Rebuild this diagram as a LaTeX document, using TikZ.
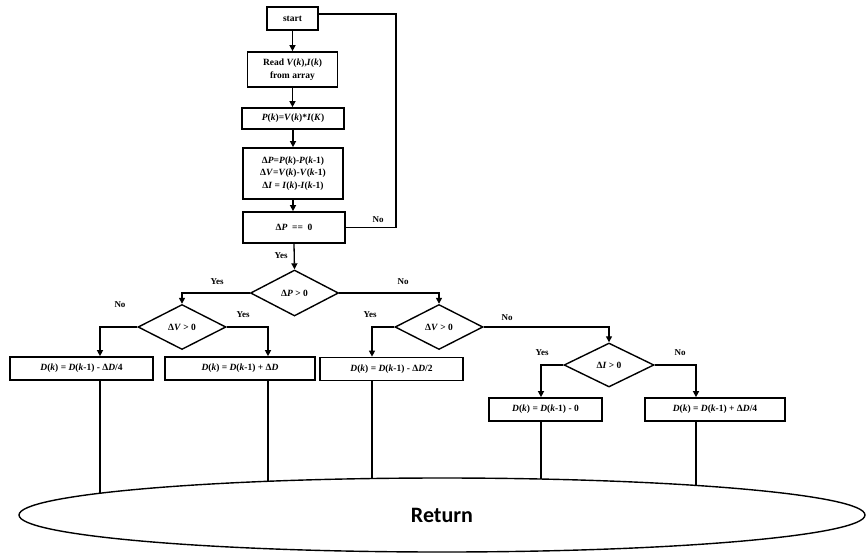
\documentclass[tikz,border=0pt]{standalone}
\usepackage{fontspec}
\setmainfont{Liberation Serif}
\newfontfamily\retfont{Carlito}
\usetikzlibrary{shapes.geometric,arrows.meta}
\newcommand{\mi}[1]{\textit{#1}}
\pgfdeclarelayer{bg}
\pgfsetlayers{bg,main}
\begin{document}
\begin{tikzpicture}[x=1pt,y=-1pt,
  box/.style={draw,rectangle,line width=1.7pt,inner sep=0pt,align=center,font=\fontsize{9.5}{12.5}\selectfont\bfseries},
  dia/.style={draw,diamond,line width=1.4pt,inner sep=0pt,font=\fontsize{9.5}{11}\selectfont\bfseries},
  ar/.style={line width=1.3pt,-{Triangle[length=6pt,width=6pt]}},
  ln/.style={line width=1.3pt},
  lab/.style={font=\fontsize{9}{10}\selectfont\bfseries,inner sep=0pt}]
\useasboundingbox (0,0) rectangle (867,555);

% main column
\node[box,minimum width=51pt,minimum height=23pt] (start) at (292.5,18.5) {start};
\node[box,minimum width=90pt,minimum height=35pt] (read) at (292.5,69.5) {Read \mi{V}(\mi{k}),\mi{I}(\mi{k})\\from array};
\node[box,minimum width=102pt,minimum height=21pt] (pk) at (293,118.5) {\mi{P}(\mi{k})=\mi{V}(\mi{k})*\mi{I}(\mi{K})};
\node[box,minimum width=100pt,minimum height=51pt] (calc) at (293,173.5) {Δ\mi{P}=\mi{P}(\mi{k})-\mi{P}(\mi{k}-1)\\Δ\mi{V}=\mi{V}(\mi{k})-\mi{V}(\mi{k}-1)\\Δ\mi{I} = \mi{I}(\mi{k})-\mi{I}(\mi{k}-1)};
\node[box,minimum width=102pt,minimum height=31pt] (zero) at (294,227.5) {Δ\mi{P}\enspace==\enspace0};

% decisions
\node[dia,minimum width=88pt,minimum height=46pt] (d1) at (294.5,293) {Δ\mi{P} > 0};
\node[dia,minimum width=88pt,minimum height=45pt] (d2) at (182,327) {Δ\mi{V} > 0};
\node[dia,minimum width=88pt,minimum height=45pt] (d3) at (439,327) {Δ\mi{V} > 0};
\node[dia,minimum width=90pt,minimum height=44pt] (d4) at (609,365) {Δ\mi{I} > 0};

% result boxes
\node[box,minimum width=143pt,minimum height=23pt] (b1) at (81.5,368.5) {\mi{D}(\mi{k}) = \mi{D}(\mi{k}-1) - Δ\mi{D}/4};
\node[box,minimum width=150pt,minimum height=23pt] (b2) at (240,368.5) {\mi{D}(\mi{k}) = \mi{D}(\mi{k}-1) + Δ\mi{D}};
\node[box,minimum width=143pt,minimum height=23pt] (b3) at (391.5,369) {\mi{D}(\mi{k}) = \mi{D}(\mi{k}-1) - Δ\mi{D}/2};
\node[box,minimum width=113pt,minimum height=23pt] (b4) at (545.5,409.5) {\mi{D}(\mi{k}) = \mi{D}(\mi{k}-1) - 0};
\node[box,minimum width=140pt,minimum height=23pt] (b5) at (715,409.5) {\mi{D}(\mi{k}) = \mi{D}(\mi{k}-1) + Δ\mi{D}/4};

% return
\node[draw,ellipse,fill=white,line width=1.4pt,minimum width=846pt,minimum height=74pt,inner sep=0pt,
      font=\retfont\fontsize{22}{26}\selectfont\bfseries] (ret) at (442,515) {Return};

% connectors
\draw[ar] (start.south) -- (start.south |- read.north);
\draw[ar] (read.south) -- (read.south |- pk.north);
\draw[ar] (pk.south) -- (pk.south |- calc.north);
\draw[ar] (calc.south) -- (calc.south |- zero.north);
\draw[ar] (zero.south) -- (d1.north);
\coordinate (lp) at (396,14);
\draw[ln] (zero.east) -| (lp) -- (lp -| start.east);

\draw[ar] (d1.west) -| (d2.north);
\draw[ar] (d1.east) -| (d3.north);
\draw[ar] (d3.east) -| (d4.north);
\draw[ar] (d2.west) -| ([xshift=18.5pt]b1.north);
\draw[ar] (d2.east) -| ([xshift=28pt]b2.north);
\draw[ar] (d3.west) -| ([xshift=-19.5pt]b3.north);
\draw[ar] (d4.west) -| ([xshift=-4.5pt]b4.north);
\draw[ar] (d4.east) -| ([xshift=-19pt]b5.north);

\begin{pgfonlayer}{bg}
\draw[ln] ([xshift=18.5pt]b1.south) -- ([xshift=18.5pt]b1.south |- ret.center);
\draw[ln] ([xshift=28pt]b2.south) -- ([xshift=28pt]b2.south |- ret.center);
\draw[ln] ([xshift=-19.5pt]b3.south) -- ([xshift=-19.5pt]b3.south |- ret.center);
\draw[ln] ([xshift=-4.5pt]b4.south) -- ([xshift=-4.5pt]b4.south |- ret.center);
\draw[ln] ([xshift=-19pt]b5.south) -- ([xshift=-19pt]b5.south |- ret.center);
\end{pgfonlayer}

% labels
\node[lab] (l0) at (378,220) {No};
\node[lab] (l1) at (281,256) {Yes};
\node[lab] (l2) at (217,282) {Yes};
\node[lab] (l3) at (403,282) {No};
\node[lab] (l4) at (120,305) {No};
\node[lab] (l5) at (243,315) {Yes};
\node[lab] (l6) at (370,315) {Yes};
\node[lab] (l7) at (507,318) {No};
\node[lab] (l8) at (542,353) {Yes};
\node[lab] (l9) at (680,353) {No};
\end{tikzpicture}
\end{document}
